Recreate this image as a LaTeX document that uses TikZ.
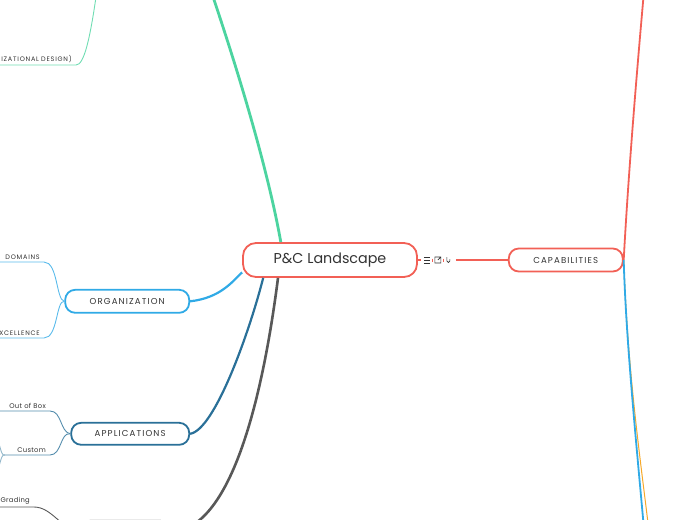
\documentclass[tikz,border=0pt]{standalone}
\usepackage{fontspec}
\setmainfont{Poppins}
\usetikzlibrary{positioning,calc}
\definecolor{pcred}{RGB}{242,96,86}
\definecolor{pcgreen}{RGB}{76,212,160}
\definecolor{pcblue}{RGB}{48,170,230}
\definecolor{pcdark}{RGB}{42,112,152}
\definecolor{pcgray}{RGB}{88,88,88}
\definecolor{pcorange}{RGB}{246,168,40}
\definecolor{pctext}{RGB}{51,51,51}

\begin{document}
\begin{tikzpicture}[x=1pt,y=-1pt,node distance=50pt]
	\tikzstyle{topic}=[rectangle,rounded corners=10pt,draw,line width=1.8pt,fill=white,text=pctext,minimum height=23pt,font=\fontsize{8.6}{10}\selectfont\addfontfeature{LetterSpace=13}]
	\tikzstyle{leaf}=[inner xsep=4pt,inner ysep=2pt,text=pctext,text width=46pt,align=right,font=\fontsize{6.5}{7.5}\selectfont\addfontfeature{LetterSpace=12}]
	\tikzstyle{lowleaf}=[leaf,font=\fontsize{6.8}{7.5}\selectfont\addfontfeature{LetterSpace=4}]
	\tikzstyle{twig}=[line width=0.9pt,line cap=round]
	\useasboundingbox (0,0) rectangle (697,520);
		\node[topic,draw=pcred,minimum width=174pt,minimum height=34pt,rounded corners=13pt,font=\fontsize{14.3}{16}\selectfont] (root) at (330,260) {P\&C Landscape};
		\node[topic,draw=pcred,minimum width=114pt] (cap) [right=90pt of root] {CAPABILITIES};
		\node[topic,draw=pcblue,minimum width=124pt] (org) [below left=11pt and 52pt of root] {ORGANIZATION};
		\node[topic,draw=pcdark,minimum width=118pt,minimum height=22pt] (app) [below left=144pt and 52pt of root] {APPLICATIONS};
		\node[topic,draw=pcgray,minimum width=90pt,minimum height=22pt] (bot) [below left=242pt and 71pt of root] {};
		\node[leaf,anchor=south east] (dom) at (44,262) {DOMAINS};
		\node[leaf,anchor=south east] (exc) at (44,338) {XCELLENCE};
		\node[leaf,anchor=south east,text width=96pt] (des) at (76,65) {IZATIONAL DESIGN)};
		\node[lowleaf,anchor=south east] (oob) at (50,411) {Out of Box};
		\node[lowleaf,anchor=south east,text width=37pt] (cus) at (50,455) {Custom};
		\node[lowleaf,anchor=south east] (grd) at (34,507) {Grading};
		\coordinate (grtop) at (209,-15);
		\coordinate (destop) at (97,-10);
		\coordinate (cusa) at (-3,436);
		\coordinate (cusb) at (-3,474);
		\coordinate (redtop) at (645,-20);
		\coordinate (blubot) at (645,540);
		\coordinate (orabot) at (650,540);
		\coordinate (icr) at ($(root.east)+(38,0)$);
			\draw[pcgreen,line width=2.8pt] (root.160) .. controls (268,170) and (238,70) .. (grtop);
			\draw[pcgreen!80,twig] (destop) .. controls (90,40) and (84,65) .. (des.south east) -- (des.south west);
			\draw[pcblue,line width=2.2pt] (org.east) .. controls (220,298) and (232,282) .. (root.188);
			\draw[pcblue!80,twig] (org.west) .. controls (56,300) and (58,262) .. (dom.south east) -- (dom.south west);
			\draw[pcblue!80,twig] (org.west) .. controls (56,300) and (58,338) .. (exc.south east) -- (exc.south west);
			\draw[pcdark,line width=2.2pt] (app.east) .. controls (215,430) and (250,330) .. (root.195);
			\draw[pcdark!80,twig] (app.west) .. controls (60,432) and (62,411) .. (oob.south east) -- (oob.south west);
			\draw[pcdark!80,twig] (app.west) .. controls (60,432) and (62,455) .. (cus.south east) -- (cus.south west);
			\draw[pcdark!50,twig] (cus.south west) .. controls (2,455) .. (cusa);
			\draw[pcdark!50,twig] (cus.south west) .. controls (2,455) .. (cusb);
			\draw[pcgray,line width=2.6pt] (root.199) .. controls (265,380) and (235,530) .. (bot.east);
			\draw[pcgray,twig] (bot.west) .. controls (62,530) and (52,507) .. (grd.south east) -- (grd.south west);
			\draw[pcred,line width=1.6pt] (icr) -- (cap.west);
			\draw[pcred,line width=1.8pt] (cap.east) .. controls (628,180) and (636,80) .. (redtop);
			\draw[pcorange,line width=1pt] (cap.east) .. controls (628,380) and (642,470) .. (orabot);
			\draw[pcblue,line width=1.8pt] (cap.east) .. controls (626,340) and (636,440) .. (blubot);
		\begin{scope}[shift={(root.east)}]
			\draw[pcred,line width=1.6pt] (0,0) -- (3,0);
			\draw[pctext,line width=0.6pt] (6,-3) -- (12,-3) (6,0) -- (12,0) (6,3) -- (12,3);
			\draw[pcred,line width=1pt] (14.5,-1.5) -- (14.5,1.5) (26,-1.5) -- (26,1.5);
			\draw[pctext,line width=0.6pt] (17,-3) rectangle (23,3) (20,0) -- (23,-3) (21,-3) -- (23,-3) -- (23,-1);
			\draw[pctext,line width=0.6pt] (29,-3) -- (29,1) arc (180:0:1.5) -- (32,-1);
		\end{scope}
\end{tikzpicture}
\end{document}
